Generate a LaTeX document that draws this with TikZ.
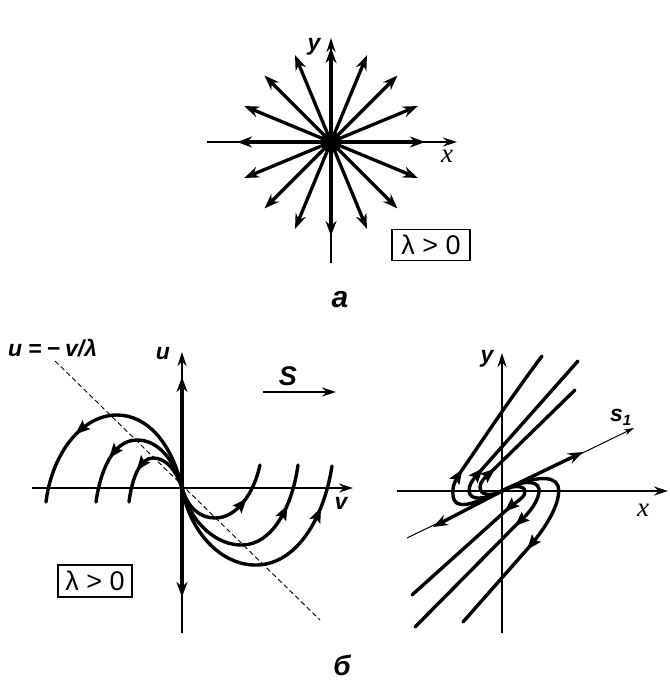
\documentclass[tikz,border=0pt]{standalone}
\usepackage{fontspec}
\setmainfont{Liberation Sans}
\newfontfamily\serifx{Liberation Serif}
\usetikzlibrary{arrows.meta,decorations.markings}
\begin{document}
\begin{tikzpicture}[x=1pt,y=-1pt,
  thickline/.style={line width=3.4pt},
  axis/.style={line width=1.1pt,-{Stealth[length=14pt,width=9pt]}},
  tipend/.style={-{Stealth[length=15pt,width=11pt]}},
  midarrow/.style={postaction={decorate},decoration={markings,mark=at position #1 with {\fill (7pt,0pt) -- (-8pt,6pt) -- (-5pt,0pt) -- (-8pt,-6pt) -- cycle;}}},
  traj/.style={line width=3.4pt,line cap=round},
  lbl/.style={font=\fontsize{23}{23}\selectfont\bfseries\itshape, inner sep=0pt},
  xlbl/.style={font=\fontsize{27}{27}\selectfont\serifx\itshape, inner sep=0pt},
  lambox/.style={draw,line width=1.1pt,font=\fontsize{27}{27}\selectfont,inner sep=0pt,minimum width=78pt,minimum height=31pt}]
\useasboundingbox (0,0) rectangle (670,681);

% ---------- panel a ----------
\coordinate (c) at (331,142);
\draw[axis] (207,142) -- (457,142);
\draw[axis] (331,263) -- (331,38);
\foreach \a in {0,22.5,...,337.5}
  \draw[line width=3.3pt, tipend] (c) -- ++(\a:94);
\fill (c) circle (10.5pt);
\node[lbl] (ya) at (314,47) {y};
\node[xlbl] (xa) at (447,156) {x};
\node[lambox] (boxa) at (431,245) {λ > 0};
\node[font=\fontsize{30}{30}\selectfont\bfseries\itshape, inner sep=0pt] (capa) at (340,300) {а};

% ---------- panel b, left ----------
\coordinate (o1) at (182,488);
\draw[axis] (32,488) -- (353,488);
\draw[axis] (182,633) -- (182,352);
\draw[thickline, tipend] (o1) -- (182,377);
\draw[thickline, tipend] (o1) -- (182,597);
\draw[dash pattern=on 5pt off 3pt, line width=0.9pt] (55,361) -- (320,620);
\node[lbl] (ul) at (163,354) {u};
\node[lbl] (vl) at (341,503) {v};
\node[font=\fontsize{27}{27}\selectfont\bfseries\itshape, inner sep=0pt] (sl) at (288,376) {S};
\draw[line width=1.1pt, -{Stealth[length=14pt,width=9pt]}] (263,392) -- (336,392);
\node[lbl, anchor=west] (eql) at (8,348) {u\hspace{6pt}=\hspace{5pt}−\hspace{5pt}v/λ};
\node[lambox, minimum width=74pt, minimum height=32pt] (boxb) at (95,581) {λ > 0};

\begin{scope}[shift={(182,488)}]
  \draw[traj, midarrow=0.64] (0,0) .. controls (-10,-45) and (-35,-73) .. (-65,-73) .. controls (-100,-73) and (-130,-35) .. (-136,14);
  \draw[traj, midarrow=0.65] (0,0) .. controls (-8,-30) and (-25,-48) .. (-45,-48) .. controls (-70,-48) and (-82,-15) .. (-86,14);
  \draw[traj, midarrow=0.6] (0,0) .. controls (-6,-18) and (-16,-30) .. (-29,-30) .. controls (-42,-30) and (-50,-10) .. (-53,14);
  \draw[traj, midarrow=0.8] (0,0) .. controls (8,45) and (40,78) .. (75,77) .. controls (115,76) and (142,30) .. (150,-22);
  \draw[traj, midarrow=0.75] (0,0) .. controls (8,35) and (35,58) .. (61,57) .. controls (90,56) and (110,20) .. (116,-23);
  \draw[traj, midarrow=0.65] (0,0) .. controls (6,20) and (18,30) .. (33,30) .. controls (55,30) and (72,5) .. (78,-23);
\end{scope}

% ---------- panel b, right ----------
\coordinate (o2) at (502,491);
\draw[axis] (397,491) -- (668,491);
\draw[axis] (502,633) -- (502,353);
\node[lbl] (yr) at (487,359) {y};
\node[xlbl] (xr) at (643,510) {x};
\node[lbl] (s1) at (621,417) {s\textsubscript{\fontsize{15}{15}\selectfont 1}};
\draw[line width=1pt, -{Stealth[length=10pt,width=6pt]}] (407,538) -- (634,428);
\draw[thickline, tipend] (o2) -- (583,452);
\draw[thickline, tipend] (o2) -- (433,527);

\begin{scope}[shift={(502,491)}]
  % upper group
  \draw[traj, midarrow=0.35] (0,0) .. controls (-30,14) and (-48,20) .. (-49,4) .. controls (-50,-6) and (-46,-12) .. (-42,-18) .. controls (-20,-50) and (10,-95) .. (40,-135);
  \draw[traj, midarrow=0.28] (0,0) .. controls (-18,9) and (-32,10) .. (-33,0) .. controls (-33,-6) and (-30,-10) .. (-26,-15) -- (76,-130);
  \draw[traj, midarrow=0.27] (0,0) .. controls (-12,6) and (-22,4) .. (-22,-4) .. controls (-22,-9) and (-17,-14) .. (-12,-18) -- (73,-101);
  % lower group
  \draw[traj, midarrow=0.55] (0,0) .. controls (28,-14) and (52,-17) .. (56,-5) .. controls (60,10) and (45,35) .. (28,55) -- (-39,131);
  \draw[traj, midarrow=0.35] (0,0) .. controls (18,-10) and (35,-12) .. (37,-2) .. controls (38,8) and (28,22) .. (15,33) -- (-87,136);
  \draw[traj, midarrow=0.27] (0,0) .. controls (10,-6) and (22,-6) .. (23,0) .. controls (24,5) and (16,10) .. (9,15) -- (-90,104);
\end{scope}

\node[font=\fontsize{28}{28}\selectfont\bfseries\itshape, inner sep=0pt] (capb) at (342,665) {б};
\end{tikzpicture}
\end{document}
